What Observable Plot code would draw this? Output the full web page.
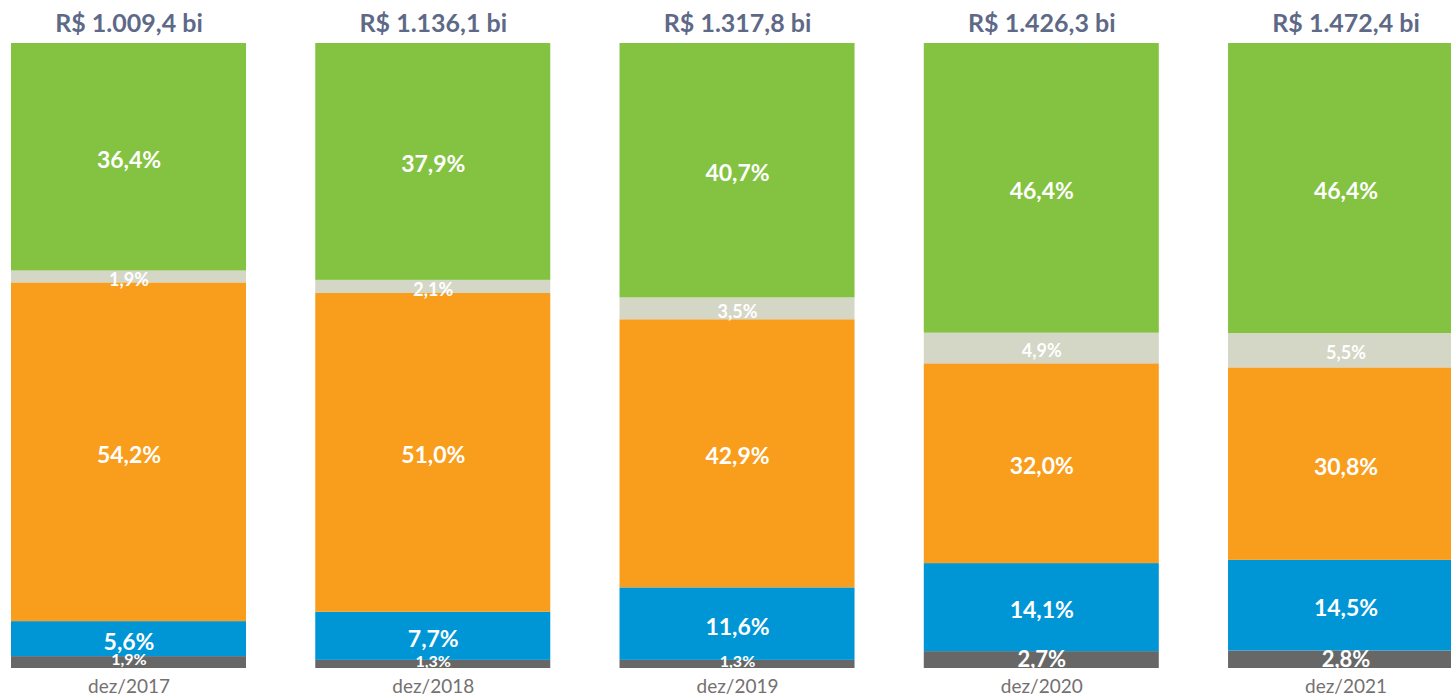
<!DOCTYPE html>
<html>
<head>
<meta charset="utf-8">
<script src="https://cdn.jsdelivr.net/npm/d3@7"></script>
<script src="https://cdn.jsdelivr.net/npm/@observablehq/plot@0.6"></script>
<style>
  html, body { margin: 0; padding: 0; background: #fff; overflow: hidden; }
  #chart svg { overflow: hidden; display: block; }
</style>
</head>
<body>
<div id="chart"></div>
<script>
// ---- data ----
const periods = ["dez/2017", "dez/2018", "dez/2019", "dez/2020", "dez/2021"];
const totals = [1009.4, 1136.1, 1317.8, 1426.3, 1472.4]; // R$ bi
const categories = ["cinza escuro", "azul", "laranja", "cinza claro", "verde"]; // bottom to top
const darkGray  = [1.9, 1.3, 1.3, 2.7, 2.8];
const blue      = [5.6, 7.7, 11.6, 14.1, 14.5];
const orange    = [54.2, 51.0, 42.9, 32.0, 30.8];
const lightGray = [1.9, 2.1, 3.5, 4.9, 5.5];
const green     = [36.4, 37.9, 40.7, 46.4, 46.4];
const seriesValues = [darkGray, blue, orange, lightGray, green];
const colors = ["#676767", "#0096d6", "#f99d1c", "#d4d6c6", "#84c341"];

// ---- build table ----
const rows = [];
categories.forEach((c, i) => {
  periods.forEach((p, j) => rows.push({period: p, category: c, value: seriesValues[i][j]}));
});
const totalRows = periods.map((p, j) => ({period: p, total: totals[j]}));

const br = d3.formatLocale({decimal: ",", thousands: ".", grouping: [3], currency: ["R$ ", ""]});
const fmtPct = br.format(".1f");
const fmtTot = br.format(",.1f");

const font = "Lato, 'Open Sans', sans-serif";
const isBase = d => d.category === "cinza escuro";
const isThinBase = d => isBase(d) && d.value < 2;
const label = d => fmtPct(d.value) + "%";

const stackOpts = {x: "period", y: "value", z: "category", offset: "normalize", order: categories};

const chart = Plot.plot({
  width: 1451,
  height: 696,
  marginTop: 43,
  marginBottom: 28,
  marginLeft: 0,
  marginRight: 0,
  style: {fontFamily: font, background: "#fff", overflow: "hidden"},
  x: {type: "band", domain: periods, range: [-58.25, 1532.3], padding: 0.2276, round: false, label: null},
  y: {domain: [0, 1], axis: null},
  color: {domain: categories, range: colors},
  marks: [
    Plot.barY(rows, Plot.stackY({...stackOpts, fill: "category"})),
    // labels for all segments except the dark-gray base
    Plot.text(rows, Plot.stackY({
      ...stackOpts,
      text: d => isBase(d) ? null : label(d),
      fill: "white", fontWeight: "bold",
      dy: 3,
      fontSize: d => d.category === "cinza claro" ? 18 : 23
    })),
    // labels for the thicker dark-gray base segments
    Plot.text(rows, Plot.stackY({
      ...stackOpts,
      text: d => isBase(d) && !isThinBase(d) ? label(d) : null,
      fill: "white", fontWeight: "bold",
      dy: 0,
      fontSize: 22
    })),
    // labels for the thin dark-gray base segments
    Plot.text(rows, Plot.stackY({
      ...stackOpts,
      text: d => isThinBase(d) ? label(d) : null,
      fill: "white", fontWeight: "bold",
      dy: -3,
      fontSize: 16
    })),
    Plot.text(totalRows, {
      x: "period", y: () => 1, dy: -20,
      text: d => "R$ " + fmtTot(d.total) + " bi",
      fill: "#5e6987", fontWeight: "bold", fontSize: 25
    }),
    Plot.axisX({tickSize: 0, tickPadding: 11, fontSize: 19, color: "#757070", label: null})
  ]
});
document.getElementById("chart").append(chart);
</script>
</body>
</html>
